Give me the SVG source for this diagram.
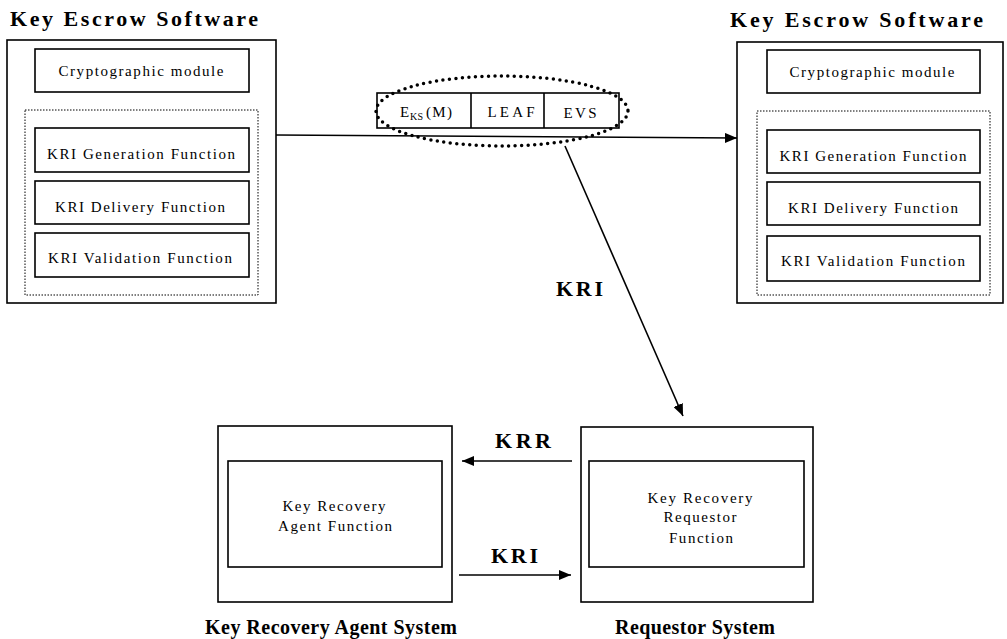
<svg xmlns="http://www.w3.org/2000/svg" width="1007" height="639" viewBox="0 0 1007 639">
<style>
text{font-family:"Liberation Serif","Times New Roman",serif;fill:#000}
.box{fill:#fff;stroke:#000;stroke-width:1.6}
.dot{fill:none;stroke:#000;stroke-width:1;stroke-dasharray:1.5 1.5}
.t{font-size:15px;text-anchor:middle}
.hd{font-size:22px;font-weight:bold}
.bt{font-size:20px;font-weight:bold;text-anchor:middle}
.lbl{font-size:22px;font-weight:bold}
.conn{stroke:#000;stroke-width:1.6;fill:none}
</style>
<defs>
<marker id="arr" viewBox="0 0 12 10" refX="12" refY="5" markerWidth="12" markerHeight="10" markerUnits="userSpaceOnUse" orient="auto">
<path d="M0,0 L12,5 L0,10 Z" fill="#000"/>
</marker>
</defs>

<g id="kes-left">
<text class="hd" x="10" y="26" textLength="248" lengthAdjust="spacing">Key Escrow Software</text>
<rect class="box" x="7" y="40" width="269" height="263"/>
<rect class="box" x="35" y="49" width="214" height="43"/>
<text class="t" x="141" y="76" textLength="165" lengthAdjust="spacing">Cryptographic module</text>
<rect class="dot" x="25" y="110" width="233" height="185"/>
<rect class="box" x="35" y="128" width="214" height="44"/>
<text class="t" x="141" y="159" textLength="188" lengthAdjust="spacing">KRI Generation Function</text>
<rect class="box" x="35" y="181" width="214" height="43"/>
<text class="t" x="140" y="212" textLength="170" lengthAdjust="spacing">KRI Delivery Function</text>
<rect class="box" x="35" y="233" width="214" height="44"/>
<text class="t" x="140" y="263" textLength="184" lengthAdjust="spacing">KRI Validation Function</text>
</g>

<g id="kes-right">
<text class="hd" x="730" y="27" textLength="253" lengthAdjust="spacing">Key Escrow Software</text>
<rect class="box" x="737" y="42" width="266" height="261"/>
<rect class="box" x="767" y="50" width="213" height="43"/>
<text class="t" x="872" y="77" textLength="165" lengthAdjust="spacing">Cryptographic module</text>
<rect class="dot" x="757" y="111" width="233" height="184"/>
<rect class="box" x="767" y="130" width="213" height="43"/>
<text class="t" x="873" y="161" textLength="187" lengthAdjust="spacing">KRI Generation Function</text>
<rect class="box" x="767" y="182" width="213" height="43"/>
<text class="t" x="873" y="213" textLength="170" lengthAdjust="spacing">KRI Delivery Function</text>
<rect class="box" x="767" y="236" width="213" height="45"/>
<text class="t" x="873" y="266" textLength="184" lengthAdjust="spacing">KRI Validation Function</text>
</g>

<g id="packet">
<rect class="box" x="377" y="93" width="242" height="35"/>
<line class="conn" x1="471" y1="93" x2="471" y2="128"/>
<line class="conn" x1="544" y1="93" x2="544" y2="128"/>
<text x="400" y="117" font-size="15">E</text>
<text x="410" y="120" font-size="10" textLength="13" lengthAdjust="spacing">KS</text>
<text x="426" y="117" font-size="15" textLength="26" lengthAdjust="spacing">(M)</text>
<text class="t" x="511" y="117" textLength="47" lengthAdjust="spacing">LEAF</text>
<text class="t" x="580" y="118" textLength="33" lengthAdjust="spacing">EVS</text>
<ellipse cx="502" cy="111" rx="126" ry="35" fill="none" stroke="#000" stroke-width="3.5" stroke-linecap="round" stroke-dasharray="0 6.5"/>
</g>

<g id="kra">
<rect class="box" x="218" y="426" width="234" height="176"/>
<rect class="box" x="228" y="461" width="214" height="106"/>
<text class="t" x="334" y="511" textLength="103" lengthAdjust="spacing">Key Recovery</text>
<text class="t" x="335" y="531" textLength="114" lengthAdjust="spacing">Agent Function</text>
<text class="bt" x="331" y="634" textLength="252" lengthAdjust="spacing">Key Recovery Agent System</text>
</g>

<g id="requestor">
<rect class="box" x="581" y="427" width="232" height="175"/>
<rect class="box" x="589" y="461" width="215" height="106"/>
<text class="t" x="700" y="503" textLength="105" lengthAdjust="spacing">Key Recovery</text>
<text class="t" x="700" y="522" textLength="73" lengthAdjust="spacing">Requestor</text>
<text class="t" x="701" y="543" textLength="64" lengthAdjust="spacing">Function</text>
<text class="bt" x="695" y="634" textLength="160" lengthAdjust="spacing">Requestor System</text>
</g>

<g id="connectors">
<line class="conn" x1="276" y1="135" x2="737" y2="138" marker-end="url(#arr)"/>
<line class="conn" x1="565" y1="146" x2="683" y2="416" marker-end="url(#arr)"/>
<text class="lbl" x="556" y="296" textLength="47" lengthAdjust="spacing">KRI</text>
<line class="conn" x1="572" y1="461" x2="462" y2="461" marker-end="url(#arr)"/>
<text class="lbl" x="495" y="448" textLength="56" lengthAdjust="spacing">KRR</text>
<line class="conn" x1="459" y1="575" x2="571" y2="575" marker-end="url(#arr)"/>
<text class="lbl" x="491" y="563" textLength="47" lengthAdjust="spacing">KRI</text>
</g>
</svg>
